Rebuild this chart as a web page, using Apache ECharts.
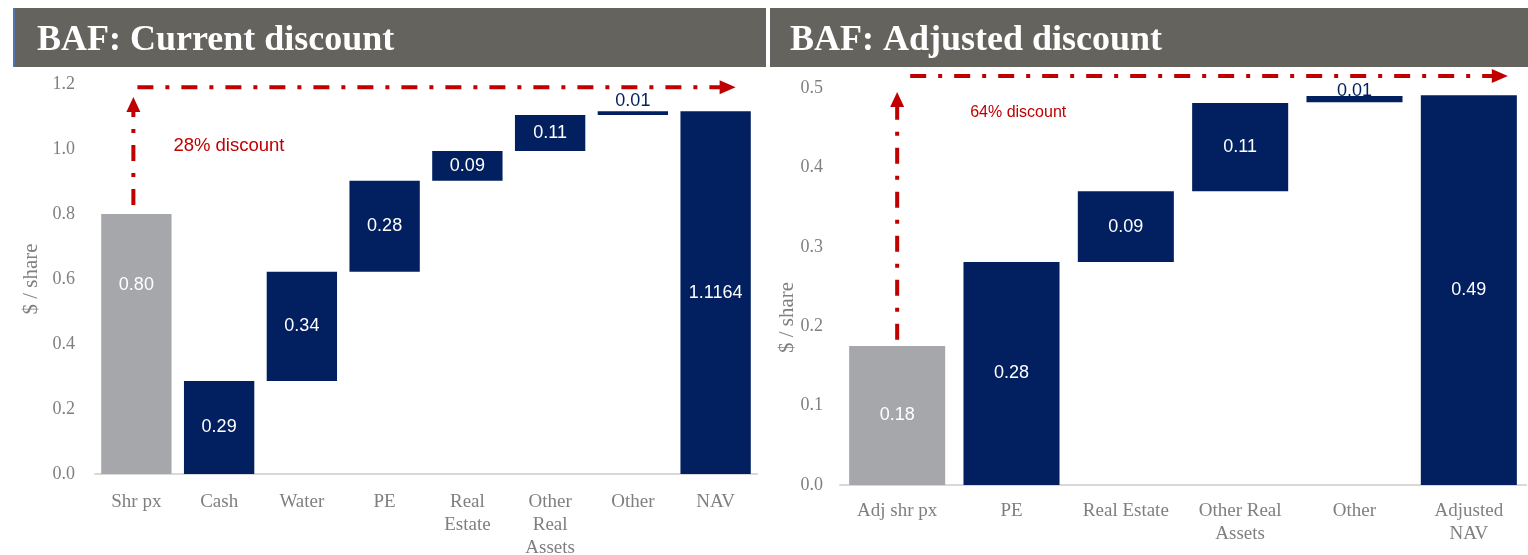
<!DOCTYPE html>
<html><head><meta charset="utf-8">
<script src="https://cdn.jsdelivr.net/npm/echarts@6/dist/echarts.min.js"></script>
<style>html,body{margin:0;padding:0;background:#fff}#c{width:1528px;height:555px}</style>
</head><body><div id="c"></div>
<script>
// ---- Data ----
const leftCategories = ['Shr px', 'Cash', 'Water', 'PE', 'Real\nEstate', 'Other\nReal\nAssets', 'Other', 'NAV'];
const leftBase   = [0, 0, 0.286, 0.622, 0.902, 0.994, 1.105, 0];
const leftValues = [0.80, 0.286, 0.336, 0.280, 0.092, 0.111, 0.011, 1.1164];
const leftLabels = ['0.80', '0.29', '0.34', '0.28', '0.09', '0.11', '0.01', '1.1164'];

const rightCategories = ['Adj shr px', 'PE', 'Real Estate', 'Other Real\nAssets', 'Other', 'Adjusted\nNAV'];
const rightBase   = [0, 0, 0.281, 0.370, 0.482, 0];
const rightValues = [0.175, 0.281, 0.089, 0.111, 0.008, 0.491];
const rightLabels = ['0.18', '0.28', '0.09', '0.11', '0.01', '0.49'];

const leftTitle = 'BAF: Current discount';
const rightTitle = 'BAF: Adjusted discount';
const leftNote = '28% discount';
const rightNote = '64% discount';

// ---- Style ----
const NAVY = '#02205F', GRAY = '#A6A7AB', RED = '#C00000', AXG = '#7F7F7F', BAND = '#64635D';
const SERIF = '"Liberation Serif", "DejaVu Serif", serif';
const SANS = '"Liberation Sans", Arial, sans-serif';

function valueData(vals, idx) {
  return vals.map((v, i) => {
    const thin = v < 0.02;
    let label = thin ? { position: 'top', color: NAVY, distance: idx === 0 ? 1 : -4 }
                     : { position: 'inside', color: '#fff' };
    if (idx === 0 && i === 0) label.offset = [0, -59];
    return { value: v, itemStyle: { color: i === 0 ? GRAY : NAVY }, label: label };
  });
}

function xAxis(idx, cats, margin) {
  return {
    type: 'category', gridIndex: idx, data: cats,
    axisLine: { lineStyle: { color: '#D9D9D9', width: 2 } },
    axisTick: { show: false },
    axisLabel: { interval: 0, color: AXG, fontFamily: SERIF, fontSize: 19, lineHeight: 23, margin: margin }
  };
}
function yAxis(idx, max, interval, gap, labMargin, namePad) {
  return {
    type: 'value', gridIndex: idx, min: 0, max: max, interval: interval,
    name: '$ / share', nameLocation: 'middle', nameGap: gap, nameRotate: 90, nameMoveOverlap: false,
    nameTextStyle: { color: AXG, fontFamily: SERIF, fontSize: 21, padding: namePad },
    axisLine: { show: false }, axisTick: { show: false }, splitLine: { show: false },
    axisLabel: { color: AXG, fontFamily: SERIF, fontSize: 18, margin: labMargin, formatter: v => v.toFixed(1) }
  };
}
function seriesPair(idx, base, vals, labels, stack) {
  return [
    { type: 'bar', xAxisIndex: idx, yAxisIndex: idx, stack: stack, data: base,
      itemStyle: { color: 'transparent' }, barCategoryGap: '15%', silent: true },
    { type: 'bar', xAxisIndex: idx, yAxisIndex: idx, stack: stack, data: valueData(vals, idx),
      barCategoryGap: idx === 0 ? '15%' : '16%',
      label: { show: true, fontFamily: SANS, fontSize: 18,
        formatter: p => labels[p.dataIndex] } }
  ];
}

const chart = echarts.init(document.getElementById('c'), null, { renderer: 'canvas' });
chart.setOption({
  animation: false,
  grid: [
    { left: 95, top: 84, width: 662, height: 390, outerBoundsMode: 'none', containLabel: false },
    { left: 840, top: 88, width: 686, height: 397, outerBoundsMode: 'none', containLabel: false }
  ],
  xAxis: [xAxis(0, leftCategories, 17), xAxis(1, rightCategories, 15)],
  yAxis: [yAxis(0, 1.2, 0.2, 53, 20, [0, 0, 0, 0]), yAxis(1, 0.5, 0.1, 42, 17, [0, 62, 0, 0])],
  series: [].concat(seriesPair(0, leftBase, leftValues, leftLabels, 'L'),
                    seriesPair(1, rightBase, rightValues, rightLabels, 'R'))
});

// ---- Annotations positioned through the axes ----
function px(axis, cat, val) {
  return chart.convertToPixel({ xAxisIndex: axis, yAxisIndex: axis }, [cat, val]);
}
const dash = { stroke: RED, lineWidth: 4, lineDash: [16, 12, 4, 12] };
const g = [];
// headers
g.push({ type: 'rect', shape: { x: 13, y: 8, width: 753, height: 59 }, style: { fill: BAND } });
g.push({ type: 'rect', shape: { x: 13, y: 8, width: 2, height: 59 }, style: { fill: '#4F76A8' } });
g.push({ type: 'rect', shape: { x: 770, y: 8, width: 758, height: 59 }, style: { fill: BAND } });
g.push({ type: 'text', x: 37, y: 41, style: { text: leftTitle, fill: '#fff', font: 'bold 36px ' + SERIF, verticalAlign: 'middle' } });
g.push({ type: 'text', x: 790, y: 41, style: { text: rightTitle, fill: '#fff', font: 'bold 36px ' + SERIF, verticalAlign: 'middle' } });

function arrows(axis, firstCat, lastCat, yStart, yTopTip, yHoriz, vOff, hStartOff, hEndOff) {
  const a = px(axis, firstCat, yStart);
  const tip = px(axis, firstCat, yTopTip);
  const h = px(axis, firstCat, yHoriz);
  const e = px(axis, lastCat, yHoriz);
  const x = a[0] + vOff;
  g.push({ type: 'line', shape: { x1: x, y1: a[1], x2: x, y2: tip[1] + 15 }, style: dash });
  g.push({ type: 'polygon', shape: { points: [[x, tip[1]], [x - 7, tip[1] + 15], [x + 7, tip[1] + 15]] }, style: { fill: RED } });
  const xs = h[0] + hStartOff, xe = e[0] + hEndOff;
  g.push({ type: 'line', shape: { x1: xs, y1: h[1], x2: xe - 14, y2: h[1] }, style: dash });
  g.push({ type: 'polygon', shape: { points: [[xe, h[1]], [xe - 16, h[1] - 7], [xe - 16, h[1] + 7]] }, style: { fill: RED } });
}
arrows(0, leftCategories[0], leftCategories[7], 0.828, 1.16, 1.19, -3, 1, 20);
arrows(1, rightCategories[0], rightCategories[5], 0.183, 0.495, 0.515, 0, 13, 39);

const n1 = px(0, leftCategories[0], 1.01);
g.push({ type: 'text', x: n1[0] + 37, y: n1[1], style: { text: leftNote, fill: RED, font: '18.5px ' + SANS, verticalAlign: 'middle' } });
const n2 = px(1, rightCategories[0], 0.469);
g.push({ type: 'text', x: n2[0] + 73, y: n2[1], style: { text: rightNote, fill: RED, font: '16px ' + SANS, verticalAlign: 'middle' } });

chart.setOption({ graphic: g });
</script></body></html>
